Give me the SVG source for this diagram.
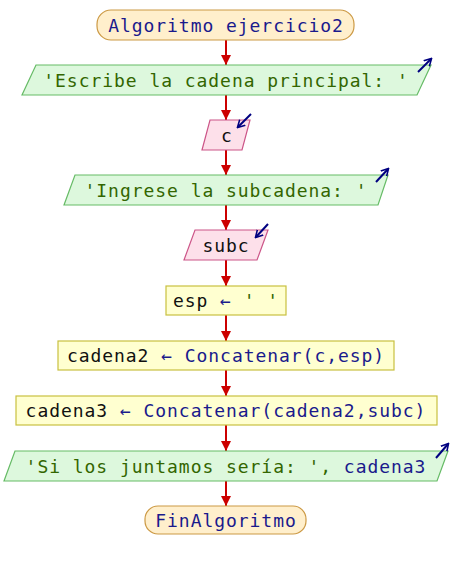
<svg xmlns="http://www.w3.org/2000/svg" width="452" height="570" viewBox="0 0 452 570">
<defs>
<style>
text{font-family:"DejaVu Sans Mono","Liberation Mono",monospace;font-size:18px;letter-spacing:0.95px;text-anchor:middle}
.term{fill:#ffefcc;stroke:#cc9944;stroke-width:1.2}
.io{fill:#ddf8dd;stroke:#66bb66;stroke-width:1.2}
.in{fill:#fde0ea;stroke:#cc5588;stroke-width:1.2}
.proc{fill:#ffffd0;stroke:#c8c040;stroke-width:1.2}
.kw{fill:#1a1a8c}
.str{fill:#336600}
.var{fill:#111111}
.flow{stroke:#cc0000;stroke-width:2;fill:none;marker-end:url(#ah)}
.ioarrow{stroke:#000080;stroke-width:2;fill:none;marker-end:url(#ah2)}
</style>
<marker id="ah" viewBox="0 0 10 10" refX="10" refY="5" markerWidth="5" markerHeight="5" markerUnits="strokeWidth" orient="auto"><path d="M0,0 L10,5 L0,10 z" fill="#cc0000"/></marker>
<marker id="ah2" viewBox="0 0 10 10" refX="8" refY="5" markerWidth="4" markerHeight="5" markerUnits="strokeWidth" orient="auto"><path d="M0,0 L9,5 L0,10" fill="none" stroke="#000080" stroke-width="2"/></marker>
</defs>
<g id="connectors">
<line class="flow" x1="226" y1="40" x2="226" y2="65"/>
<line class="flow" x1="226" y1="95" x2="226" y2="120"/>
<line class="flow" x1="226" y1="150" x2="226" y2="175"/>
<line class="flow" x1="226" y1="205" x2="226" y2="230"/>
<line class="flow" x1="226" y1="260" x2="226" y2="286"/>
<line class="flow" x1="226" y1="315" x2="226" y2="341"/>
<line class="flow" x1="226" y1="370" x2="226" y2="396"/>
<line class="flow" x1="226" y1="425" x2="226" y2="451"/>
<line class="flow" x1="226" y1="480" x2="226" y2="506"/>
</g>
<g id="start">
<rect class="term" x="97" y="10" width="257" height="30" rx="14"/>
<text class="kw" x="226" y="32">Algoritmo ejercicio2</text>
</g>
<g id="out1">
<polygon class="io" points="36,65 431,65 417,95 22,95"/>
<text class="str" x="226" y="87">'Escribe la cadena principal: '</text>
<line class="ioarrow" x1="418" y1="72" x2="431" y2="59"/>
</g>
<g id="in1">
<polygon class="in" points="210,120 250,120 242,150 202,150"/>
<text class="var" x="227" y="142">c</text>
<line class="ioarrow" x1="251" y1="114" x2="238" y2="127"/>
</g>
<g id="out2">
<polygon class="io" points="75,175 388,175 378,205 64,205"/>
<text class="str" x="226" y="197">'Ingrese la subcadena: '</text>
<line class="ioarrow" x1="376" y1="182" x2="388" y2="169"/>
</g>
<g id="in2">
<polygon class="in" points="195,230 268,230 257,260 184,260"/>
<text class="var" x="226" y="252">subc</text>
<line class="ioarrow" x1="268" y1="224" x2="256" y2="237"/>
</g>
<g id="assign1">
<rect class="proc" x="166" y="286" width="120" height="29"/>
<text x="226" y="307"><tspan class="var">esp </tspan><tspan class="kw">←</tspan><tspan class="str"> ' '</tspan></text>
</g>
<g id="assign2">
<rect class="proc" x="58" y="341" width="336" height="29"/>
<text x="226" y="362"><tspan class="var">cadena2 </tspan><tspan class="kw">← Concatenar(c,esp)</tspan></text>
</g>
<g id="assign3">
<rect class="proc" x="16" y="396" width="421" height="29"/>
<text x="226" y="417"><tspan class="var">cadena3 </tspan><tspan class="kw">← Concatenar(cadena2,subc)</tspan></text>
</g>
<g id="out3">
<polygon class="io" points="15,451 448,451 437,481 4,481"/>
<text x="226" y="473"><tspan class="str">'Si los juntamos sería: ', </tspan><tspan class="kw">cadena3</tspan></text>
<line class="ioarrow" x1="436" y1="458" x2="448" y2="444"/>
</g>
<g id="end">
<rect class="term" x="145" y="506" width="161" height="28" rx="13"/>
<text class="kw" x="226" y="527">FinAlgoritmo</text>
</g>
</svg>
